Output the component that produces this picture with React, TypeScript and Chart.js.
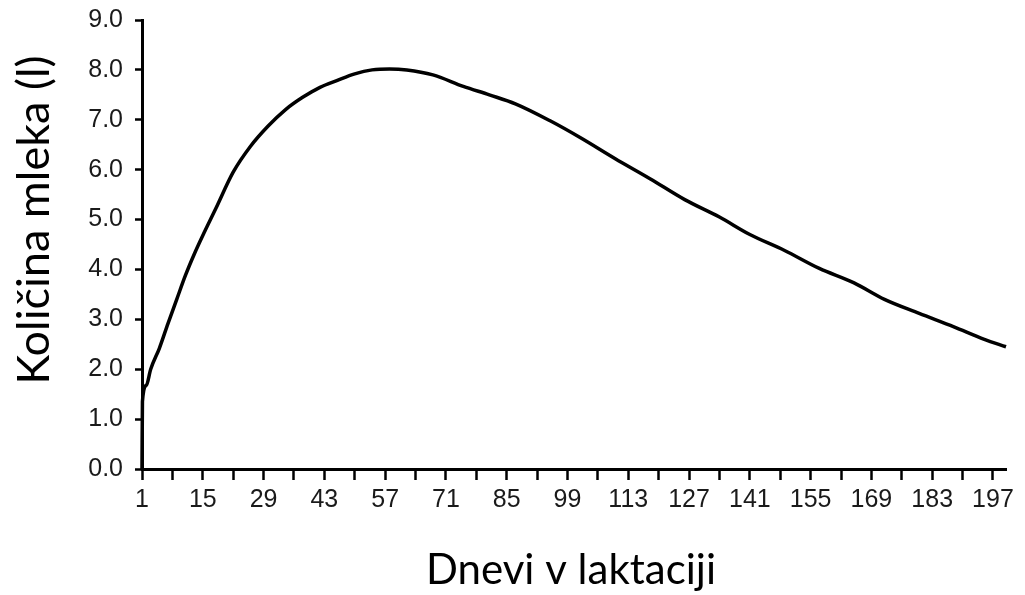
import { useEffect, useRef } from 'react';
import { Chart, registerables } from 'chart.js';

Chart.register(...registerables);

// Days in lactation (x) and milk quantity in litres (y)
const days = [1, 1.1, 2, 3, 5, 7, 9, 11, 13, 15, 18, 22, 26, 30, 34, 38, 42, 46, 50, 54, 58, 62, 68, 75, 81, 87, 95, 102, 110, 118, 126, 134, 141, 149, 157, 165, 172, 180, 188, 195, 200];
const milk = [0, 1.35, 1.68, 2.0, 2.42, 2.92, 3.4, 3.88, 4.3, 4.68, 5.22, 5.95, 6.47, 6.87, 7.2, 7.45, 7.65, 7.79, 7.92, 8.0, 8.02, 8.0, 7.9, 7.67, 7.5, 7.32, 6.98, 6.64, 6.22, 5.82, 5.4, 5.05, 4.7, 4.38, 4.02, 3.73, 3.4, 3.12, 2.85, 2.6, 2.45];

// X axis ticks every 7 days, labelled every 14 days
const xTickValues = [1, 8, 15, 22, 29, 36, 43, 50, 57, 64, 71, 78, 85, 92, 99, 106, 113, 120, 127, 134, 141, 148, 155, 162, 169, 176, 183, 190, 197];
const xTickLabels = ['1', '', '15', '', '29', '', '43', '', '57', '', '71', '', '85', '', '99', '', '113', '', '127', '', '141', '', '155', '', '169', '', '183', '', '197'];
const yTickLabels = ['0.0', '1.0', '2.0', '3.0', '4.0', '5.0', '6.0', '7.0', '8.0', '9.0'];

const xTitle = 'Dnevi v laktaciji';
const yTitle = 'Količina mleka (l)';

const titlePlugin = {
  id: 'axisTitlesCustom',
  afterDraw(chart: any) {
    const ctx = chart.ctx as CanvasRenderingContext2D;
    ctx.save();
    ctx.fillStyle = '#000';
    ctx.font = '42px Lato';
    ctx.textAlign = 'center';
    ctx.textBaseline = 'alphabetic';
    ctx.fillText(xTitle, 571, 584);
    ctx.translate(49, 220);
    ctx.rotate(-Math.PI / 2);
    ctx.font = '45px Lato';
    ctx.fillText(yTitle, 0, 0);
    ctx.restore();
  },
};

export default function App() {
  const ref = useRef<HTMLCanvasElement | null>(null);

  useEffect(() => {
    if (!ref.current) return;
    const chart = new Chart(ref.current, {
      type: 'line',
      data: {
        datasets: [
          {
            data: days.map((d, i) => ({ x: d, y: milk[i] })),
            borderColor: '#000',
            borderWidth: 3.5,
            pointRadius: 0,
            fill: false,
            cubicInterpolationMode: 'monotone',
            clip: false as any,
          },
        ],
      },
      options: {
        responsive: false,
        animation: false,
        devicePixelRatio: 1,
        layout: { padding: { top: 20, right: 19, left: 0, bottom: 0 } },
        plugins: {
          legend: { display: false },
          tooltip: { enabled: false },
          title: { display: false },
        },
        scales: {
          x: {
            type: 'linear',
            min: 1,
            max: 200,
            afterBuildTicks: (s: any) => {
              s.ticks = xTickValues.map((v) => ({ value: v }));
            },
            afterFit: (s: any) => {
              s.height = 126;
              s.paddingLeft = 0;
              s.paddingRight = 0;
            },
            ticks: {
              autoSkip: false,
              maxRotation: 0,
              minRotation: 0,
              padding: 5,
              color: '#1a1a1a',
              font: { family: 'Liberation Sans', size: 25 },
              callback: (v: any) => {
                const i = xTickValues.indexOf(Number(v));
                return i >= 0 ? xTickLabels[i] : '';
              },
            },
            grid: {
              display: true,
              drawOnChartArea: false,
              drawTicks: true,
              tickLength: 11,
              tickWidth: 2.5,
              tickColor: '#000',
              color: '#000',
            },
            border: { display: true, color: '#000', width: 3 },
          },
          y: {
            type: 'linear',
            min: 0,
            max: 9,
            afterFit: (s: any) => {
              s.width = 142;
              s.paddingTop = 0;
              s.paddingBottom = 0;
            },
            ticks: {
              stepSize: 1,
              padding: 12,
              color: '#1a1a1a',
              font: { family: 'Liberation Sans', size: 25 },
              callback: (v: any) => yTickLabels[Math.round(Number(v))] ?? '',
            },
            grid: {
              display: true,
              drawOnChartArea: false,
              drawTicks: true,
              tickLength: 7,
              tickWidth: 2.5,
              tickColor: '#000',
              color: '#000',
            },
            border: { display: true, color: '#000', width: 3 },
          },
        },
      },
      plugins: [titlePlugin],
    });
    return () => chart.destroy();
  }, []);

  return (
    <div style={{ position: 'fixed', left: 0, top: 0, width: 1025, height: 595, background: '#fff' }}>
      <canvas ref={ref} width={1025} height={595} style={{ display: 'block' }} />
    </div>
  );
}
